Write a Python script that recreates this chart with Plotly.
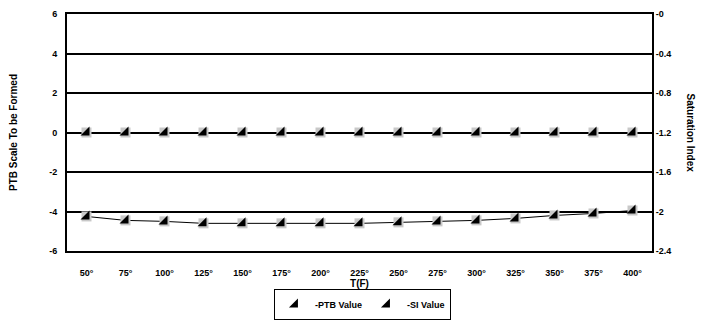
import plotly.graph_objects as go

categories = ["50°", "75°", "100°", "125°", "150°", "175°", "200°", "225°", "250°",
              "275°", "300°", "325°", "350°", "375°", "400°"]
ptb_values = [0, 0, 0, 0, 0, 0, 0, 0, 0, 0, 0, 0, 0, 0, 0]
si_values = [-2.05, -2.09, -2.10, -2.12, -2.12, -2.12, -2.12, -2.12, -2.11,
             -2.10, -2.09, -2.07, -2.04, -2.02, -1.99]
left_tickvals = [-6, -4, -2, 0, 2, 4, 6]
left_ticktext = ["-6", "-4", "-2", "0", "2", "4", "6"]
right_tickvals = [-2.4, -2.0, -1.6, -1.2, -0.8, -0.4, 0]
right_ticktext = ["-2.4", "-2", "-1.6", "-1.2", "-0.8", "-0.4", "-0"]

font = "Liberation Sans, Arial, sans-serif"
fig = go.Figure()

def add_series(y, name, axis):
    fig.add_trace(go.Scatter(x=categories, y=y, mode="lines", yaxis=axis,
                             line=dict(color="black", width=1),
                             showlegend=False, hoverinfo="skip"))
    fig.add_trace(go.Scatter(x=categories, y=y, mode="markers", yaxis=axis,
                             marker=dict(symbol="square", size=10, color="#c8c8c8",
                                         line=dict(width=0)),
                             showlegend=False, hoverinfo="skip"))
    fig.add_trace(go.Scatter(x=categories, y=y, mode="markers", name=name, yaxis=axis,
                             marker=dict(symbol="triangle-se", size=10, color="black",
                                         line=dict(width=0))))

add_series(ptb_values, "<b>-PTB Value</b>", "y")
add_series(si_values, "<b>-SI Value</b>", "y2")

fig.add_annotation(text="<b>Saturation Index</b>", xref="paper", yref="paper",
                   x=1.065, y=0.5, textangle=90, showarrow=False,
                   font=dict(size=10, family=font), xanchor="center", yanchor="middle")

fig.update_layout(
    width=710, height=322,
    margin=dict(l=67, r=58, t=14, b=71, autoexpand=False),
    paper_bgcolor="white", plot_bgcolor="white",
    font=dict(family=font, size=9, color="black"),
    showlegend=True,
    legend=dict(orientation="h", x=0.505, xanchor="center", yref="container",
                y=0.006, yanchor="bottom",
                bordercolor="black", borderwidth=1, font=dict(size=9, family=font),
                itemwidth=30, tracegroupgap=0),
    xaxis=dict(type="category", range=[-0.5, len(categories) - 0.5],
               showgrid=False, showline=True, linecolor="black",
               linewidth=2, mirror=True, ticks="", tickfont=dict(size=9, family=font),
               automargin=False, ticklabelstandoff=12,
               title=dict(text="<b>T(F)</b>", font=dict(size=10, family=font), standoff=4),
               tickprefix="<b>", ticksuffix="</b>"),
    yaxis=dict(range=[-6, 6], tickvals=left_tickvals,
               ticktext=["<b>%s</b>" % t for t in left_ticktext],
               showgrid=True, gridcolor="black", automargin=False,
               gridwidth=1.5, showline=True, linecolor="black", linewidth=2, zeroline=False,
               ticks="", tickfont=dict(size=9, family=font), ticklabelstandoff=6,
               title=dict(text="<b>PTB Scale To be Formed</b>",
                          font=dict(size=10, family=font), standoff=30)),
    yaxis2=dict(range=[-2.4, 0], overlaying="y", side="right", tickvals=right_tickvals,
                ticktext=["<b>%s</b>" % t for t in right_ticktext], showgrid=False,
                automargin=False,
                showline=True, linecolor="black", linewidth=2, zeroline=False, ticks="",
                tickfont=dict(size=9, family=font)),
)

fig.write_html("out.html", config={"displayModeBar": False},
               post_script="document.body.style.margin='0';document.body.style.padding='0';")
